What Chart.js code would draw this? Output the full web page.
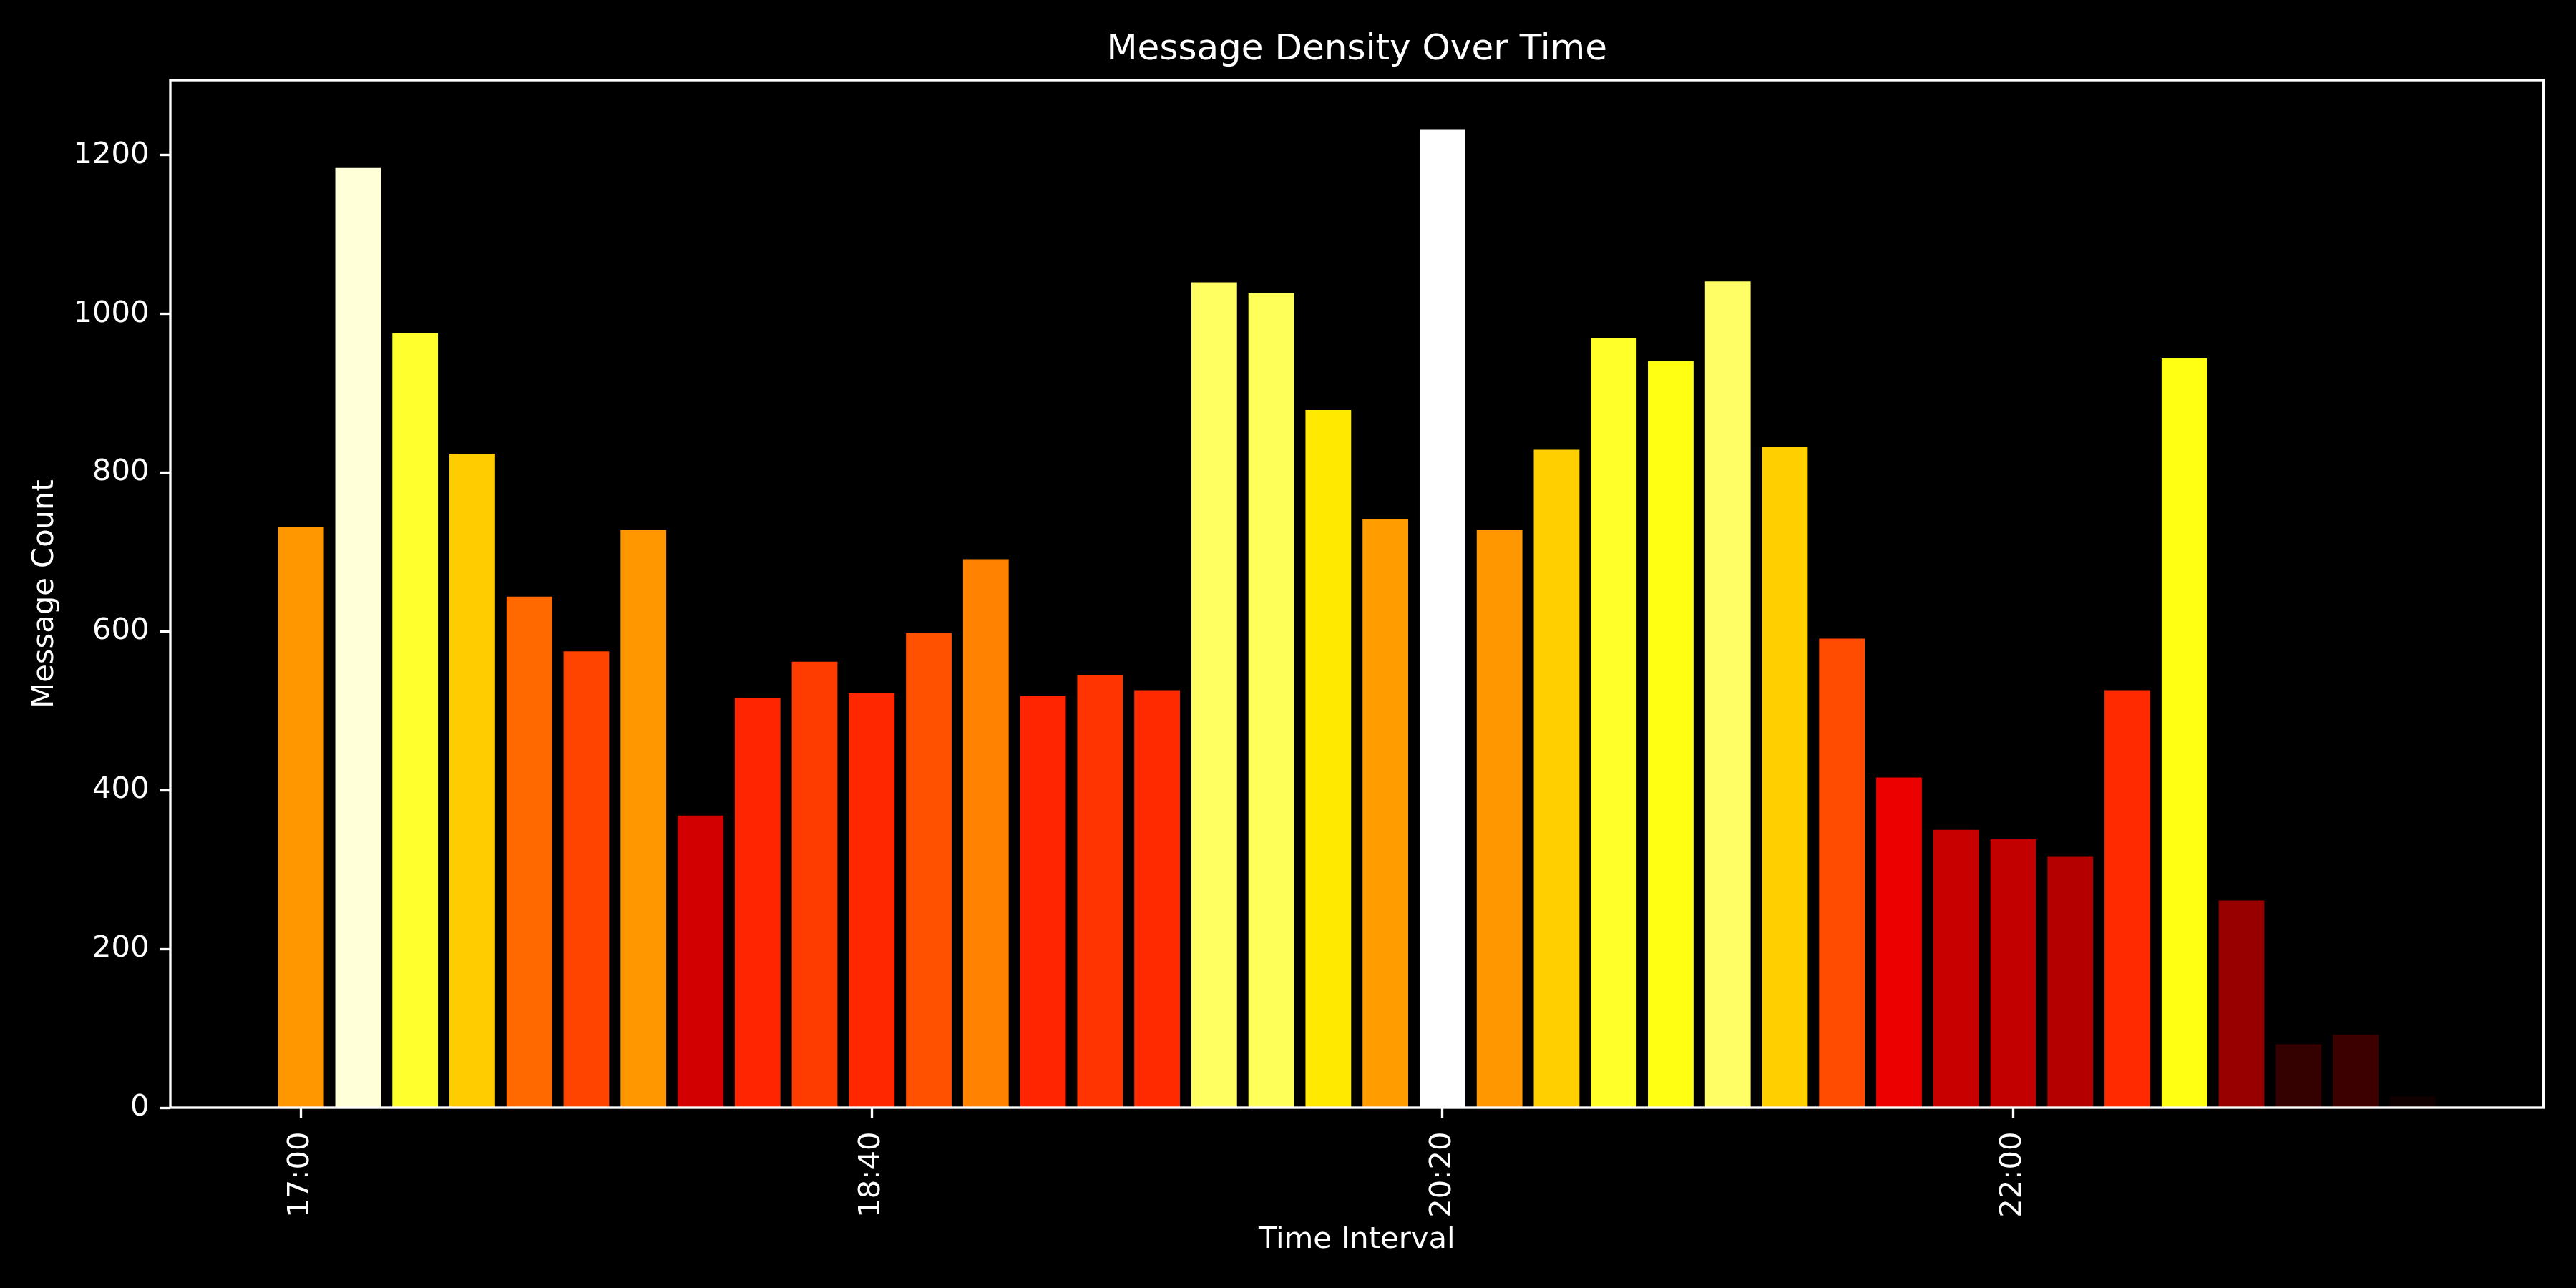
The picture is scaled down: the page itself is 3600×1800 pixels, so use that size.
<!DOCTYPE html>
<html>
<head>
<meta charset="utf-8">
<script src="https://cdn.jsdelivr.net/npm/chart.js@4.4.1/dist/chart.umd.min.js"></script>
<style>
  html, body { margin: 0; padding: 0; background: #000; }
  #wrap { width: 3600px; height: 1800px; }
  canvas { display: block; }
</style>
</head>
<body>
<div id="wrap"><canvas id="c" width="3600" height="1800" style="width:3600px;height:1800px"></canvas></div>
<script>
// ---- data ----
const timeLabels = ["17:00","17:10","17:20","17:30","17:40","17:50",
                    "18:00","18:10","18:20","18:30","18:40","18:50",
                    "19:00","19:10","19:20","19:30","19:40","19:50",
                    "20:00","20:10","20:20","20:30","20:40","20:50",
                    "21:00","21:10","21:20","21:30","21:40","21:50",
                    "22:00","22:10","22:20","22:30","22:40","22:50",
                    "23:00","23:10"];
const messageCounts = [732, 1184, 976, 824, 644, 575, 728, 368, 516, 562, 522, 598,
                       691, 519, 545, 526, 1040, 1026, 879, 741, 1233, 728, 829, 970,
                       941, 1041, 833, 591, 416, 350, 338, 317, 526, 944, 261, 80, 92, 14];
const xTickLabels = ["17:00", "18:40", "20:20", "22:00"];
const yTickValues = [0, 200, 400, 600, 800, 1000, 1200];

const chartTitle = "Message Density Over Time";
const xTitle = "Time Interval";
const yTitle = "Message Count";

// ---- helpers ----
const toMin = s => { const p = s.split(":").map(Number); return p[0] * 60 + p[1]; };
const fmtMin = v => { const h = Math.floor(v / 60), m = Math.round(v % 60); return h + ":" + String(m).padStart(2, "0"); };

// matplotlib "hot" colormap (256-entry LUT)
function hot(x) {
  const i = Math.min(255, Math.max(0, Math.floor(x * 256)));
  const t = i / 255;
  const r = t < 0.365079 ? 0.0416 + (1 - 0.0416) * t / 0.365079 : 1;
  const g = t < 0.365079 ? 0 : (t < 0.746032 ? (t - 0.365079) / (0.746032 - 0.365079) : 1);
  const b = t < 0.746032 ? 0 : (t - 0.746032) / (1 - 0.746032);
  return `rgb(${Math.round(r * 255)},${Math.round(g * 255)},${Math.round(b * 255)})`;
}

const xs = timeLabels.map(toMin);
const maxCount = Math.max(...messageCounts);
const colors = messageCounts.map(v => hot(v / maxCount));
const points = xs.map((x, i) => ({ x: x, y: messageCounts[i] }));
const xTickValues = xTickLabels.map(toMin);

// axis limits like matplotlib's 5% margins (bar width = 0.8 of the 10-min step)
const step = xs[1] - xs[0];
const lo = xs[0] - 0.4 * step, hi = xs[xs.length - 1] + 0.4 * step;
const xMin = lo - 0.05 * (hi - lo), xMax = hi + 0.05 * (hi - lo);
const yMax = maxCount * 1.05;

const FONT = "DejaVu Sans";
const TICK_PX = 41.67;

const bg = {
  id: "bg",
  beforeDraw(chart) {
    const c = chart.ctx;
    c.save(); c.fillStyle = "#000"; c.fillRect(0, 0, chart.width, chart.height); c.restore();
  },
  afterDraw(chart) {
    const a = chart.chartArea, c = chart.ctx;
    c.save();
    c.strokeStyle = "#fff"; c.lineWidth = 3.33;
    c.strokeRect(a.left, a.top, a.right - a.left, a.bottom - a.top);
    c.restore();
  }
};

new Chart(document.getElementById("c"), {
  type: "bar",
  data: {
    datasets: [{
      data: points,
      backgroundColor: colors,
      borderWidth: 0,
      barPercentage: 0.8,
      categoryPercentage: 1.0
    }]
  },
  options: {
    responsive: false,
    devicePixelRatio: 1,
    animation: false,
    layout: { padding: { left: 0, right: 45.5, top: 0, bottom: 0 } },
    plugins: {
      legend: { display: false },
      tooltip: { enabled: false },
      title: { display: false }
    },
    scales: {
      x: {
        type: "linear",
        offset: false,
        min: xMin, max: xMax,
        afterBuildTicks(scale) { scale.ticks = xTickValues.map(v => ({ value: v })); },
        afterFit(scale) { scale.height = 252; },
        ticks: {
          autoSkip: false, minRotation: 90, maxRotation: 90,
          color: "#fff", padding: 19,
          font: { family: FONT, size: TICK_PX },
          callback: (v) => { const i = xTickValues.indexOf(v); return i >= 0 ? xTickLabels[i] : fmtMin(v); }
        },
        grid: { display: true, offset: false, drawOnChartArea: false, drawTicks: true, tickLength: 14.6, tickWidth: 3.33, tickColor: "#fff" },
        border: { display: false },
        title: {
          display: true, text: xTitle, color: "#fff",
          font: { family: FONT, size: TICK_PX, lineHeight: 1.2 },
          padding: { top: 0, bottom: 42 }
        }
      },
      // top axis only carries the chart title, centred over the plot area
      xTop: {
        type: "linear",
        position: "top",
        offset: false,
        min: xMin, max: xMax,
        afterFit(scale) { scale.height = 112; },
        ticks: { display: false },
        grid: { display: false },
        border: { display: false },
        title: {
          display: true, text: chartTitle, color: "#fff",
          font: { family: FONT, size: 50, lineHeight: 1.2 },
          padding: { top: 40, bottom: 0 }
        }
      },
      y: {
        type: "linear",
        min: 0, max: yMax,
        afterBuildTicks(scale) { scale.ticks = yTickValues.map(v => ({ value: v })); },
        afterFit(scale) { scale.width = 238; },
        ticks: {
          color: "#fff", padding: 15,
          font: { family: FONT, size: TICK_PX },
          callback: (v) => String(v)
        },
        grid: { display: true, drawOnChartArea: false, drawTicks: true, tickLength: 14.6, tickWidth: 3.33, tickColor: "#fff" },
        border: { display: false },
        title: {
          display: true, text: yTitle, color: "#fff",
          font: { family: FONT, size: TICK_PX, lineHeight: 1.2 },
          padding: { top: 38, bottom: 0 }
        }
      }
    }
  },
  plugins: [bg]
});
</script>
</body>
</html>
